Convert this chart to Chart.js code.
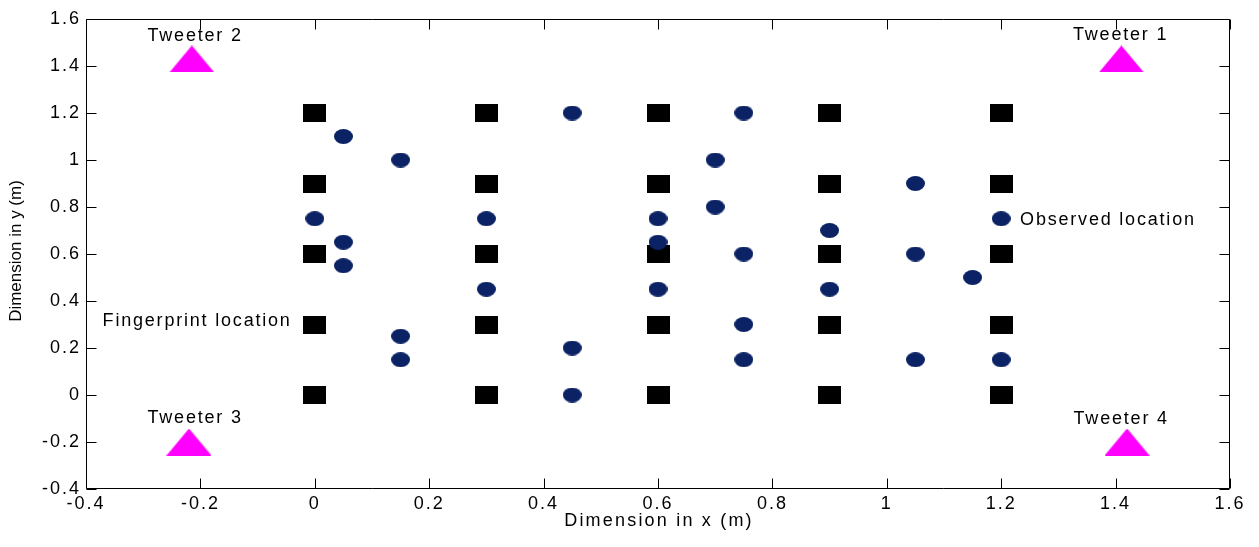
<!DOCTYPE html>
<html><head><meta charset="utf-8">
<script src="https://cdn.jsdelivr.net/npm/chart.js@4/dist/chart.umd.min.js"></script>
<style>html,body{margin:0;padding:0;background:#fff}#wrap{width:1259px;height:547px}</style>
</head><body><div id="wrap"><canvas id="c" width="1259" height="547"></canvas></div>
<script>
const xTicks = [-0.4, -0.2, 0, 0.2, 0.4, 0.6, 0.8, 1, 1.2, 1.4, 1.6];
const yTicks = [-0.4, -0.2, 0, 0.2, 0.4, 0.6, 0.8, 1, 1.2, 1.4, 1.6];

const fingerprintX = [0,0,0,0,0, 0.3,0.3,0.3,0.3,0.3, 0.6,0.6,0.6,0.6,0.6, 0.9,0.9,0.9,0.9,0.9, 1.2,1.2,1.2,1.2,1.2];
const fingerprintY = [0,0.3,0.6,0.9,1.2, 0,0.3,0.6,0.9,1.2, 0,0.3,0.6,0.9,1.2, 0,0.3,0.6,0.9,1.2, 0,0.3,0.6,0.9,1.2];

const observedX = [0.45,0.75,0.05,0.15,0.7,1.05,0.7,0,0.3,0.6,1.2,0.9,0.05,0.6,0.75,1.05,0.05,1.15,0.3,0.6,0.9,0.15,0.75,0.45,0.15,0.75,1.05,1.2,0.45];
const observedY = [1.2,1.2,1.1,1.0,1.0,0.9,0.8,0.75,0.75,0.75,0.75,0.7,0.65,0.65,0.6,0.6,0.55,0.5,0.45,0.45,0.45,0.25,0.3,0.2,0.15,0.15,0.15,0.15,0];

const tweeterX = [1.41, -0.215, -0.22, 1.42];
const tweeterY = [1.43, 1.43, -0.2, -0.2];
const tweeterNames = ['Tweeter 1', 'Tweeter 2', 'Tweeter 3', 'Tweeter 4'];
const tweeterLabelX = [1.407, -0.211, -0.211, 1.408];
const tweeterLabelY = [1.532, 1.528, -0.098, -0.104];

const noteTexts = ['Fingerprint location', 'Observed location'];
const noteX = [-0.371, 1.233];
const noteY = [0.315, 0.745];

const FONT = "'Liberation Sans', Arial, sans-serif";

function makeCanvas(w, h, draw) {
  const c = document.createElement('canvas');
  c.width = w; c.height = h;
  draw(c.getContext('2d'), w, h);
  return c;
}
const squareImg = makeCanvas(23, 18, (g, w, h) => { g.fillStyle = '#000'; g.fillRect(0, 0, w, h); });
const ellipseImg = makeCanvas(19, 15, (g, w, h) => {
  g.fillStyle = '#0b2265'; g.beginPath(); g.ellipse(w/2, h/2, w/2, h/2, 0, 0, Math.PI*2); g.fill();
});
const triImg = makeCanvas(45, 27, (g, w, h) => {
  g.fillStyle = '#ff00ff'; g.beginPath(); g.moveTo(w/2, 0); g.lineTo(w, h); g.lineTo(0, h); g.closePath(); g.fill();
});

const toPts = (xs, ys) => xs.map((x, i) => ({x: x, y: ys[i]}));

const framePlugin = {
  id: 'frame',
  beforeDraw(chart) {
    chart.ctx.letterSpacing = '2px';
  },
  afterDraw(chart) {
    const ctx = chart.ctx, a = chart.chartArea;
    const xs = chart.scales.x, ys = chart.scales.y;
    ctx.save();
    ctx.strokeStyle = '#000'; ctx.lineWidth = 1;
    const L = Math.round(a.left) + 0.5, R = Math.round(a.right) - 0.5;
    const T = Math.round(a.top) + 0.5, B = Math.round(a.bottom) - 0.5;
    ctx.beginPath();
    ctx.rect(L, T, R - L, B - T);
    const tl = 10;
    xTicks.forEach(v => {
      const px = Math.round(xs.getPixelForValue(v)) + 0.5;
      ctx.moveTo(px, B); ctx.lineTo(px, B - tl);
      ctx.moveTo(px, T); ctx.lineTo(px, T + tl);
    });
    yTicks.forEach(v => {
      const py = Math.round(ys.getPixelForValue(v)) + 0.5;
      ctx.moveTo(L, py); ctx.lineTo(L + tl, py);
      ctx.moveTo(R, py); ctx.lineTo(R - tl, py);
    });
    ctx.stroke();

    ctx.fillStyle = '#000';
    ctx.font = '18px ' + FONT;
    ctx.textBaseline = 'middle';
    ctx.letterSpacing = '1.8px';
    ctx.textAlign = 'center';
    tweeterNames.forEach((t, i) => {
      ctx.fillText(t, xs.getPixelForValue(tweeterLabelX[i]) + 1, ys.getPixelForValue(tweeterLabelY[i]));
    });
    ctx.textAlign = 'left';
    noteTexts.forEach((t, i) => {
      ctx.fillText(t, xs.getPixelForValue(noteX[i]), ys.getPixelForValue(noteY[i]));
    });
    // axis titles
    ctx.textAlign = 'center';
    ctx.letterSpacing = '2.2px';
    ctx.fillText('Dimension in x (m)', (a.left + a.right) / 2 + 1, 521);
    ctx.translate(16, 251);
    ctx.rotate(-Math.PI / 2);
    ctx.font = '17px ' + FONT;
    ctx.letterSpacing = '0px';
    ctx.fillText('Dimension in y (m)', 0, 0);
    ctx.restore();
  }
};

new Chart(document.getElementById('c'), {
  type: 'scatter',
  data: {
    datasets: [
      { label: 'Observed location', data: toPts(observedX, observedY), pointStyle: ellipseImg, order: 0 },
      { label: 'Fingerprint location', data: toPts(fingerprintX, fingerprintY), pointStyle: squareImg, order: 1 },
      { label: 'Tweeters', data: toPts(tweeterX, tweeterY), pointStyle: triImg, order: 2 }
    ]
  },
  options: {
    responsive: false,
    devicePixelRatio: 1,
    animation: false,
    events: [],
    layout: { padding: { top: 19, right: 29, left: 0, bottom: 0 } },
    plugins: { legend: { display: false }, tooltip: { enabled: false } },
    scales: {
      x: {
        type: 'linear', min: -0.4, max: 1.6,
        afterBuildTicks: s => { s.ticks = xTicks.map(v => ({ value: v })); },
        afterFit: s => { s.height = 58; },
        grid: { display: false, drawTicks: false },
        border: { display: false },
        ticks: { color: '#000', font: { size: 18, family: FONT }, padding: 4, maxRotation: 0, autoSkip: false,
                 callback: v => String(Math.round(v * 10) / 10) }
      },
      y: {
        type: 'linear', min: -0.4, max: 1.6,
        afterBuildTicks: s => { s.ticks = yTicks.map(v => ({ value: v })); },
        afterFit: s => { s.width = 86; },
        grid: { display: false, drawTicks: false },
        border: { display: false },
        ticks: { color: '#000', font: { size: 18, family: FONT }, padding: 5, autoSkip: false,
                 callback: v => String(Math.round(v * 10) / 10) }
      }
    }
  },
  plugins: [framePlugin]
});
</script>
</body></html>
